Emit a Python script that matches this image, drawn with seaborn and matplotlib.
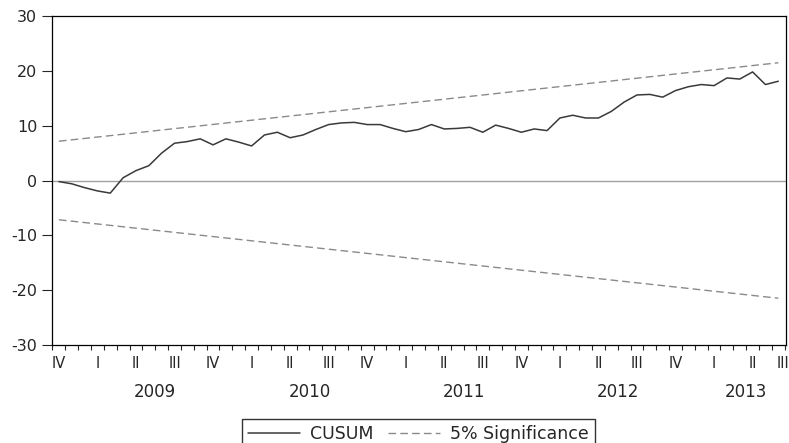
import matplotlib
matplotlib.use("Agg")
import matplotlib.pyplot as plt
import matplotlib.transforms as mtransforms
import numpy as np
import pandas as pd
import seaborn as sns

# Recursive residual CUSUM, monthly, Oct 2008 .. Jun 2013
start_period = "2008-10"
cusum = [
    -0.2, -0.6, -1.3, -1.9, -2.3, 0.5, 1.8, 2.7, 5.0, 6.8,
    7.1, 7.6, 6.5, 7.6, 7.0, 6.3, 8.3, 8.8, 7.8, 8.3,
    9.3, 10.2, 10.5, 10.6, 10.2, 10.2, 9.5, 8.9, 9.3, 10.2,
    9.4, 9.5, 9.7, 8.8, 10.1, 9.5, 8.8, 9.4, 9.1, 11.4,
    11.9, 11.4, 11.4, 12.6, 14.3, 15.6, 15.7, 15.2, 16.4, 17.1,
    17.5, 17.3, 18.7, 18.5, 19.8, 17.5, 18.1,
]
# 5% significance band at the first and last observation
band_upper = [7.16, 21.47]
band_lower = [-7.16, -21.47]
y_ticks = [-30, -20, -10, 0, 10, 20, 30]
roman = {1: "I", 2: "II", 3: "III", 4: "IV"}

periods = pd.period_range(start_period, periods=len(cusum) + 1, freq="M")
obs = np.arange(len(cusum))
df = pd.DataFrame({"obs": obs, "CUSUM": cusum})
band = pd.DataFrame({"obs": [obs[0], obs[-1]], "upper": band_upper, "lower": band_lower})

sns.set_style("ticks")
plt.rcParams["font.family"] = ["DejaVu Sans"]
plt.rcParams["axes.unicode_minus"] = False

fig = plt.figure(figsize=(7.89, 4.43), dpi=100)
ax = fig.add_axes([0.0665, 0.2212, 0.9297, 0.7427])

ax.axhline(0, color="#a0a0a0", lw=1.0, zorder=1)
sns.lineplot(data=df, x="obs", y="CUSUM", ax=ax, color="#3a3a3a", lw=1.1,
             label="CUSUM", zorder=3)
sns.lineplot(data=band, x="obs", y="upper", ax=ax, color="#8a8a8a", lw=1.0,
             label="5% Significance", zorder=2)
sns.lineplot(data=band, x="obs", y="lower", ax=ax, color="#8a8a8a", lw=1.0,
             label="_nolegend_", zorder=2)
for ln in ax.get_lines()[1:]:
    if ln.get_color() == "#8a8a8a":
        ln.set_dashes((5.5, 3.0))

ax.set_xlim(-0.5, len(cusum) - 0.4)
ax.set_ylim(-30, 30)
ax.set_yticks(y_ticks)
ax.set_xlabel("")
ax.set_ylabel("")

# month boundaries as small ticks, quarter names under each quarter's first month
ax.set_xticks(np.arange(len(cusum) + 1) - 0.5, minor=True)
q_pos = [i for i, p in enumerate(periods[:-1]) if p.month in (1, 4, 7, 10)]
ax.set_xticks(q_pos)
ax.set_xticklabels([roman[periods[i].quarter] for i in q_pos])
ax.tick_params(axis="x", which="major", length=0, pad=8, labelsize=10.5)
ax.tick_params(axis="x", which="minor", length=3.5, width=0.8, direction="out")
ax.tick_params(axis="y", which="major", length=7, width=0.8, pad=4, labelsize=11.5)

# quarter that starts right after the last observation, at the right edge
last = periods[-1]
if last.month in (1, 4, 7, 10):
    fig.text(1.0, 1 - 363 / 443, roman[last.quarter], ha="right", va="center",
             fontsize=10.5)

# year names centred between the II and III quarter labels
trans = mtransforms.blended_transform_factory(ax.transData, ax.transAxes)
years = sorted({p.year for p in periods[:-1] if p.month == 4})
for yr in years:
    i2 = [i for i, p in enumerate(periods[:-1]) if p.year == yr and p.month == 4][0]
    xpos = min(i2 + 1.5, len(cusum) - 3.55)
    ax.text(xpos, -0.143, str(yr), transform=trans, ha="center", va="center",
            fontsize=12)

for s in ax.spines.values():
    s.set_visible(True)
    s.set_color("black")
    s.set_linewidth(0.9)

ax.legend_.remove()
handles, labels = ax.get_legend_handles_labels()
leg = fig.legend(handles, labels, loc="upper center", bbox_to_anchor=(0.5305, 1 - 419 / 443),
                 ncol=2, frameon=True, fancybox=False, edgecolor="black",
                 fontsize=12.5, handlelength=3.0, columnspacing=0.8,
                 handletextpad=0.6, borderpad=0.35, borderaxespad=0.0)
leg.get_frame().set_linewidth(1.0)

fig.savefig("out.png", dpi=100)
